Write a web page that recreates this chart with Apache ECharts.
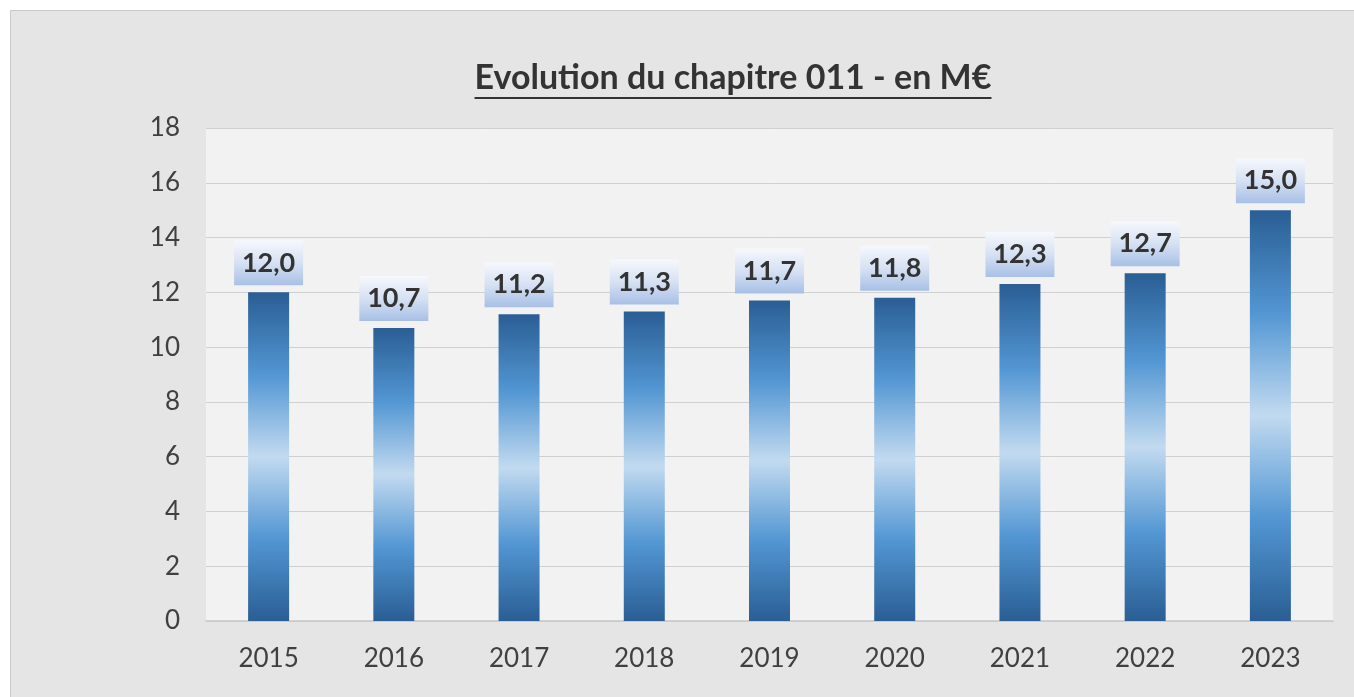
<!DOCTYPE html>
<html><head><meta charset="utf-8">
<script src="https://cdn.jsdelivr.net/npm/echarts@6/dist/echarts.min.js"></script>
<style>html,body{margin:0;padding:0;background:#fff;}#c{width:1354px;height:697px;}</style>
</head><body><div id="c"></div>
<script>
const categories = ['2015','2016','2017','2018','2019','2020','2021','2022','2023'];
const values = [12.0, 10.7, 11.2, 11.3, 11.7, 11.8, 12.3, 12.7, 15.0];
const yTicks = [0, 2, 4, 6, 8, 10, 12, 14, 16, 18];
const titleText = 'Evolution du chapitre 011 - en M€';

const FONT = 'Lato, "Open Sans", sans-serif';
const chart = echarts.init(document.getElementById('c'));

const cv = document.createElement('canvas').getContext('2d');
cv.font = 'bold 34px ' + FONT;
const tw = cv.measureText(titleText).width;
const cx = 733;

const barGrad = new echarts.graphic.LinearGradient(0, 0, 0, 1, [
  {offset: 0, color: '#2a5e94'},
  {offset: 0.25, color: '#5296d3'},
  {offset: 0.5, color: '#c2daf0'},
  {offset: 0.75, color: '#5296d3'},
  {offset: 1, color: '#2a5e94'}
]);
const labelGrad = new echarts.graphic.LinearGradient(0, 0, 0, 1, [
  {offset: 0, color: '#f6f8fd'},
  {offset: 0.5, color: '#d6e1f3'},
  {offset: 1, color: '#a8c0e6'}
]);

chart.setOption({
  backgroundColor: '#ffffff',
  animation: false,
  graphic: [
    {type: 'rect', z: -10, silent: true, shape: {x: 10.5, y: 10.5, width: 1400, height: 720},
     style: {fill: '#e5e5e5', stroke: '#c9c9c9', lineWidth: 1}},
    {type: 'text', z: 10, style: {text: titleText, x: cx, y: 78, align: 'center', verticalAlign: 'middle',
      font: 'bold 34px ' + FONT, fill: '#333333'}},
    {type: 'line', z: 10, shape: {x1: cx - tw/2, y1: 98, x2: cx + tw/2, y2: 98},
     style: {stroke: '#333333', lineWidth: 2}}
  ],
  grid: {left: 206, right: 21, top: 128, bottom: 76, show: true, backgroundColor: '#f2f2f2', borderWidth: 0},
  xAxis: {
    type: 'category', data: categories,
    axisLine: {show: true, lineStyle: {color: '#c8c8c8', width: 1.5}},
    axisTick: {show: false},
    axisLabel: {color: '#404040', fontSize: 26, fontFamily: FONT, margin: 25}
  },
  yAxis: {
    type: 'value', min: 0, max: 18, interval: 2,
    axisLine: {show: false}, axisTick: {show: false},
    splitLine: {lineStyle: {color: '#d0d0d0', width: 1}},
    axisLabel: {color: '#404040', fontSize: 26, fontFamily: FONT, margin: 26,
      formatter: v => yTicks.includes(v) ? String(v) : ''}
  },
  series: [{
    type: 'bar', data: values, barWidth: 41,
    itemStyle: {color: barGrad},
    label: {
      show: true, position: 'top', distance: 7,
      formatter: p => p.value.toFixed(1).replace('.', ','),
      color: '#333333', fontSize: 27, fontWeight: 'bold', fontFamily: FONT,
      backgroundColor: labelGrad, width: 69, height: 45, lineHeight: 45, align: 'center', padding: 0
    }
  }]
});
</script></body></html>
